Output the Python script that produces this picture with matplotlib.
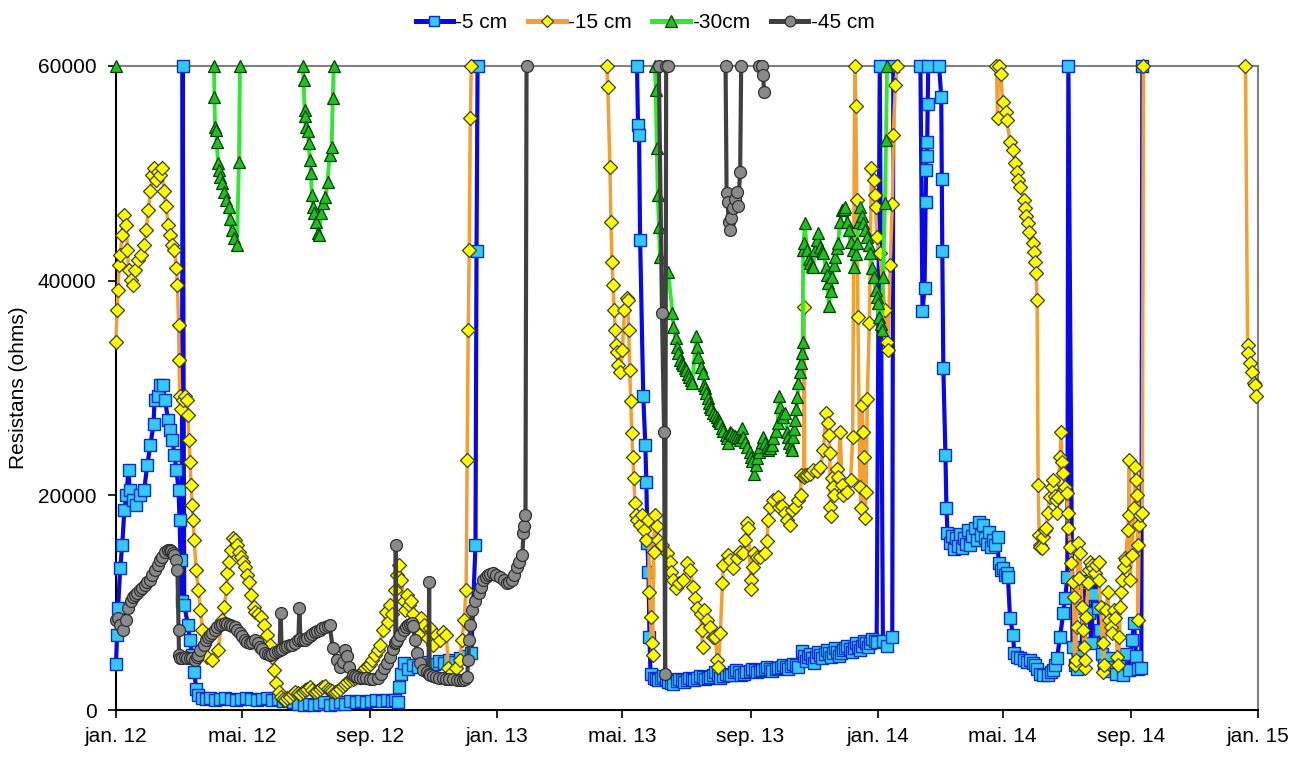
import datetime
import numpy as np
import matplotlib
matplotlib.use("Agg")
import matplotlib.pyplot as plt
import matplotlib.dates as mdates
from matplotlib.lines import Line2D

plt.rcParams['font.family'] = ['Liberation Sans', 'DejaVu Sans']

# ---------------- data: (days since 2012-01-01, resistance in ohms) ----------------
cm5_segments = [
    [(0, 4300), (1, 7000), (2, 9500), (4, 13200), (6, 15400), (8, 18600), (10, 20000), (12, 22400),
     (13, 20500), (16, 19600), (19, 19100), (23, 20000), (27, 20500), (30, 22800), (33, 24700),
     (36, 26600), (37, 28900), (40, 29300), (42, 30300), (45, 30300), (47, 28900), (50, 27000),
     (52, 26100), (54, 25200), (56, 23800), (58, 22400), (60, 20500), (61, 17700), (62, 14000),
     (63, 10200), (64, 60000), (65.5, 9800), (69, 7900), (71, 6500), (73, 5100), (75, 3500),
     (77, 2000), (79, 1400), (83, 1100), (86, 1000), (90, 1100), (95, 900), (100, 1000), (105, 1100),
     (110, 1000), (115, 900), (120, 1000), (125, 1100), (130, 1000), (135, 900), (140, 1000),
     (145, 1100), (150, 900), (155, 1000), (160, 800), (165, 900), (170, 700), (175, 600), (180, 500),
     (185, 600), (190, 500), (195, 600), (200, 700), (205, 500), (210, 600), (215, 700), (220, 600),
     (225, 800), (230, 700), (235, 800), (240, 700), (245, 800), (250, 900), (255, 800), (260, 900),
     (265, 800), (268, 900), (271, 700), (272, 2100), (274, 3400), (276, 4400), (280, 3800),
     (285, 4200), (290, 4000), (295, 4500), (300, 4200), (305, 4300), (310, 4600), (315, 4400),
     (320, 4700), (325, 4500), (330, 4800), (335, 5000), (341, 5300), (345, 15400), (346, 42800),
     (347, 60000)],
    [(500, 60000), (501, 54500), (502, 53600), (503, 43800), (506, 29300), (508, 24700), (509, 21200),
     (510, 15600), (511, 12900), (512, 6800), (513, 3400), (516, 3000), (518, 2900), (520, 2800),
     (523, 3000), (525, 3200), (528, 2900), (530, 2600), (533, 2500), (535, 2400), (538, 2700),
     (540, 2900), (543, 2800), (545, 2600), (548, 2800), (550, 3000), (553, 2900), (555, 2800),
     (558, 3000), (560, 3200), (563, 3100), (565, 2900), (568, 3000), (570, 3100), (573, 3300),
     (575, 3500), (578, 3300), (580, 3000), (583, 3200), (585, 3400), (588, 3300), (590, 3300),
     (593, 3500), (595, 3700), (598, 3500), (600, 3300), (603, 3400), (605, 3500), (608, 3600),
     (610, 3800), (613, 3700), (615, 3500), (618, 3600), (620, 3700), (623, 3800), (625, 4000),
     (628, 3800), (630, 3600), (633, 3800), (635, 3900), (638, 4000), (640, 4200), (643, 4000),
     (645, 3800), (648, 4100), (650, 4300), (653, 4200), (655, 4000), (658, 5500), (660, 5000),
     (662, 4600), (664, 4900), (666, 5200), (668, 4800), (670, 4400), (672, 4900), (674, 5400),
     (676, 5100), (678, 4800), (680, 5200), (682, 5600), (684, 5300), (686, 4900), (688, 5300),
     (690, 5800), (692, 5400), (694, 5000), (696, 5300), (698, 5600), (700, 5800), (702, 6000),
     (704, 5700), (706, 5400), (708, 5800), (710, 6200), (712, 5900), (714, 5600), (716, 6000),
     (718, 6400), (720, 6200), (722, 5900), (724, 6200), (726, 6600), (728, 6400), (730, 6300),
     (733, 60000), (736, 6400), (740, 6000), (745, 6800), (746, 60000)],
    [(772, 60000), (774, 37200), (776, 39300), (777, 47300), (777.5, 50300), (778, 51600),
     (778.5, 52900), (779, 56500), (779.5, 60000)],
    [(790, 60000), (792, 57100), (792.5, 49500), (793, 42800), (794, 31900), (796, 23800),
     (797, 18800), (798, 16500), (800, 15600), (802, 16200), (804, 15000), (806, 16000), (808, 15300),
     (810, 16400), (812, 15100), (814, 16000), (816, 15500), (818, 16800), (820, 15400), (822, 16200),
     (824, 17000), (826, 15800), (828, 17500), (830, 16300), (832, 17200), (834, 16000), (836, 15500),
     (838, 16600), (840, 15200), (842, 15800), (844, 15400), (846, 16100), (847, 13700), (849, 13000),
     (851, 13200), (853, 12600), (855, 12800), (856, 12400), (858, 8600), (861, 7000), (862, 5300),
     (865, 4900), (868, 4800), (871, 4700), (874, 4500), (877, 4700), (880, 4400), (882, 4200),
     (884, 3800), (887, 3400), (890, 3300), (894, 3300), (897, 3500), (899, 3700), (901, 4200),
     (903, 4800), (906, 6800), (909, 9000), (911, 10400), (913, 12400), (914, 60000), (918, 5900),
     (920, 4200), (922, 3800), (924, 5000), (926, 4500), (928, 9500), (930, 11800), (932, 12000),
     (934, 9000), (936, 6200), (938, 10800), (940, 12300), (942, 9500), (944, 7500), (946, 5200),
     (948, 4200), (951, 3600), (954, 4800), (957, 4000), (960, 3400), (963, 4600), (966, 3300),
     (969, 5200), (972, 3700), (975, 6500), (977, 8100), (979, 5000), (981, 3800), (984, 3900),
     (985, 60000)],
]

cm15_segments = [
    [(0, 34300), (1, 37300), (2, 39100), (3, 41500), (4, 42400), (6, 44300), (8, 46100), (10, 45200),
     (11, 42900), (12, 41000), (14, 40100), (16, 39600), (18, 41000), (21, 41900), (24, 42400),
     (27, 43300), (29, 44700), (31, 46600), (33, 48400), (35, 49800), (36, 50500), (38, 49400),
     (40, 50100), (42, 49800), (44, 50500), (46, 48400), (48, 47000), (50, 45200), (52, 44300),
     (54, 43300), (56, 42900), (58, 41200), (59, 39600), (60, 35900), (60.5, 32600), (61, 29300),
     (62, 28000), (64, 28900), (66, 29300), (68, 28900), (69, 27500), (70, 25200), (71, 23100),
     (72, 21000), (73, 19100), (74, 17700), (75, 15800), (77, 13000), (79, 11200), (81, 9300),
     (83, 7500), (84, 6100), (87, 4900), (92, 4700), (98, 5600), (102, 8400), (104, 9600),
     (106, 11400), (107, 12800), (108, 13800), (110, 14900), (112, 16000), (114, 15800), (116, 15400),
     (118, 14700), (120, 14300), (122, 13800), (124, 13300), (126, 12600), (128, 11900), (130, 10700),
     (132, 9600), (133, 9100), (136, 8900), (139, 8700), (142, 7900), (145, 7000), (148, 6100),
     (150, 4900), (152, 3700), (154, 2500), (156, 1700), (158, 1200), (160, 1000), (162, 900),
     (164, 1100), (167, 1200), (170, 1500), (172, 1700), (175, 1600), (177, 1500), (179, 1700),
     (181, 1900), (183, 2000), (186, 2100), (188, 1900), (191, 1700), (193, 1800), (196, 2000),
     (198, 2100), (201, 2200), (203, 2000), (205, 1900), (207, 1800), (210, 1700), (212, 1800),
     (215, 2000), (218, 2200), (220, 2400), (222, 2600), (225, 2800), (227, 2900), (229, 3000),
     (231, 3200), (234, 3400), (237, 3600), (239, 3900), (242, 4100), (244, 4300), (246, 4700),
     (249, 5100), (251, 5600), (253, 6100), (256, 7500), (259, 9100), (261, 8200),
     (263, 9800), (265, 8900), (268, 11200), (270, 12600), (272, 13500), (274, 12100), (276, 10200),
     (277, 9300), (279, 10700), (281, 9800), (283, 10200), (285, 8900), (288, 7900), (291, 7000),
     (293, 8600), (296, 7900), (299, 6700), (301, 7600), (304, 6100), (307, 7000), (311, 6500),
     (314, 7300), (317, 7000), (319, 3900), (322, 3500), (326, 3900), (330, 4700), (332, 6500),
     (334, 8400), (336, 11200), (337, 23300), (338, 35400), (339, 42900), (340, 55200), (341, 60000)],
    [(471, 60000), (472, 58000), (474, 50600), (475, 45500), (476, 41700), (477, 39600), (478, 37300),
     (479, 35400), (480, 34000), (481, 33400), (482, 32100), (484, 31500), (486, 33500), (488, 37300),
     (490, 38400), (491, 38200), (492, 35400), (493, 31700), (494, 28800), (495, 25800), (496, 23600),
     (497, 21600), (498, 19300), (499, 18200), (500, 17700), (503, 17200), (505, 18200), (507, 16800),
     (509, 15800), (511, 17700), (512, 11000), (513, 8700), (514, 6200), (515, 5100), (516, 14700),
     (517, 18200), (519, 17100), (520, 15800), (524, 15400), (529, 14600), (532, 13800),
     (532.5, 12900), (535, 12100), (537, 11400), (540, 11800), (544, 12100), (548, 13700),
     (551, 13000), (554, 11500), (556, 10400), (558, 9500), (561, 8900), (562, 7500), (563, 5900),
     (564, 9300), (567, 8400), (570, 7700), (573, 6800), (575, 6800), (577, 4700), (578, 4000),
     (580, 7200), (582, 11800), (583, 13500), (587, 14400), (589, 14000), (592, 13200), (596, 14200),
     (599, 14700), (602, 14600), (604, 15800), (606, 17400), (607, 17000), (609, 12100),
     (609.5, 11300), (611, 13300), (612, 14600), (615, 14300), (618, 14300), (623, 14600),
     (625, 15700), (625.5, 17700), (628, 18900), (631, 19600), (635, 19800), (636, 18900),
     (639, 19000), (642, 18400), (644, 17700), (647, 17200), (649, 18600), (652, 18900), (655, 19600),
     (657, 20000), (657.5, 21900), (660, 21700), (660.5, 37500), (661, 21900), (663, 21900),
     (666, 22000), (669, 22400), (673, 22300), (676, 22600), (679, 24200), (681, 27700), (683, 26700),
     (684, 25600), (685, 23900), (685.5, 18900), (686, 18100), (687, 21600), (688, 20800),
     (689, 20000), (692, 22500), (693, 21700), (695, 25900), (697, 21000), (698, 20000), (702, 20300),
     (705, 21400), (707, 25400), (709, 60000), (710, 56300), (711, 47500), (712, 36600), (714, 20800),
     (715, 18800), (716, 28400), (717, 25900), (718, 23600), (719, 17900), (720, 20300), (721, 29000),
     (723, 36100), (725, 50500), (727, 49400), (728, 48000), (729, 46900), (730, 44100), (733, 42600),
     (738, 37300), (740, 34300), (741, 33500), (743, 41500), (745, 47100), (746, 53600), (748, 58200),
     (750, 60000)],
    [(845, 60000), (846, 55200), (847, 60000), (849, 59300), (851, 56600), (854, 55700), (855, 55000),
     (858, 52900), (861, 52200), (863, 51000), (865, 50100), (866, 49400), (868, 48700), (871, 47500),
     (872, 46800), (873, 46000), (875, 45400), (876, 44500), (880, 43500), (881, 42700), (882, 41700),
     (883, 40700), (884, 38200), (885, 21000), (886, 16300), (886.5, 15400), (887, 15200),
     (889, 15100), (890, 16100), (892, 16800), (893, 17000), (894, 18400), (896, 19800), (898, 20800),
     (899, 21400), (901, 19900), (902, 19600), (903, 18400), (904, 19800), (906, 23600), (907, 25900),
     (908, 23100), (909, 22100), (911, 20800), (913, 20200), (913.5, 18400), (914, 17000),
     (916, 15200), (917, 13700), (918, 11900), (919, 10500), (920, 4200), (921, 4700), (922, 7700),
     (923, 15600), (924, 12300), (925, 14600), (927, 9600), (928, 7500), (929, 5900), (929.5, 3900),
     (930, 4700), (931, 8700), (933, 11800), (934, 13000), (935, 13800), (937, 13500), (938, 13200),
     (940, 12800), (941, 13500), (943, 13800), (943.5, 12100), (945, 9600), (947, 6200),
     (947.5, 3500), (948, 4200), (950, 9300), (952, 11000), (953, 8400), (955, 7700), (956, 7200),
     (958, 9300), (959, 8600), (961, 4900), (962, 4200), (963, 6800), (964, 9600), (964.5, 11000),
     (965, 12100), (967, 13300), (968, 14200), (969, 14000), (971, 16800), (972, 18200),
     (972.5, 23300), (973, 12100), (975, 14400), (977, 18800), (978, 22600), (979, 21400),
     (980, 20000), (980.5, 15400), (981, 8400), (982, 17200), (983, 18200), (985, 18400),
     (986, 60000)],
    [(1084, 60000), (1086, 34000), (1086.5, 33300), (1088, 32300), (1090, 31500), (1092, 30500),
     (1093, 30300), (1094, 29300)],
]

cm30_segments = [
    [(0, 60000)],
    [(94, 60000), (94.5, 57100), (95, 54300), (96, 54000), (96.5, 52900), (98, 51000), (99, 50300),
     (100, 49700), (102, 49100), (104, 48300), (106, 47500), (108, 46900), (109, 45700), (111, 44700),
     (113, 44000), (116, 43300), (118, 51100), (119, 60000)],
    [(179, 60000), (180, 58700), (181, 55900), (181.5, 55300), (182, 54300), (184, 53900),
     (185, 52800), (186, 51200), (187, 50000), (188, 48000), (189, 46900), (190.5, 46300),
     (192, 45500), (194, 44400), (195, 44300), (197, 46300), (199, 47200), (201, 47800), (203, 49200),
     (205, 51700), (207, 52500), (208, 57000), (209, 60000)],
    [(517, 60000), (518, 57800), (519, 52400), (520, 48000), (521, 45000), (522, 42200), (530, 40800),
     (534, 37000), (535, 35700), (537, 34700), (538, 33800), (539, 33300), (541, 32600), (543, 32300),
     (544, 32100), (546, 31900), (547, 31700), (549, 31300), (550, 31000), (552, 30700), (553, 30500),
     (557, 34800), (558, 33800), (559, 32900), (561, 32000), (563, 31400), (564, 30300), (565, 30000),
     (566, 29500), (568, 29100), (569, 28600), (570, 28200), (571, 28000), (573, 27700), (575, 27500),
     (577, 27300), (578, 27000), (579, 26900), (580, 26700), (582, 26300), (583, 26000), (585, 25600),
     (586, 25300), (587, 24900), (589, 25900), (590, 25800), (592, 25600), (594, 25500), (596, 25400),
     (598, 25300), (599, 25200), (601, 26300), (602, 25400), (604, 25000), (606, 24500), (608, 24000),
     (609, 23600), (610, 23200), (612, 22000), (614, 22800), (615, 23500), (617, 24000), (618, 24500),
     (620, 25000), (621, 25400), (623, 24900), (625, 24500), (626, 24200), (628, 24400), (630, 24700),
     (631, 25300), (633, 26000), (635, 26700), (636, 29300), (637, 28200), (639, 27500), (640, 27300),
     (642, 27700), (644, 25900), (645, 25400), (646, 24900), (648, 24500), (649, 24200), (650, 25400),
     (651, 26200), (652, 27000), (653, 28000), (654, 29200), (655, 30500), (656, 31500), (657, 32300),
     (658, 33300), (659, 34300), (659.5, 42900), (660, 43500), (661, 45400), (663, 42900),
     (665, 42000), (666, 41600), (668, 41400), (669, 41300), (671, 42900), (673, 43800), (674, 44400),
     (676, 43100), (678, 42800), (679, 42600), (681, 41300), (682, 40500), (683, 39800), (684, 37600),
     (686, 39000), (687, 40300), (689, 41500), (690, 42200), (692, 43000), (693, 43500), (695, 45500),
     (697, 46600), (699, 46700), (700, 46900), (702, 45500), (703, 44700), (705, 43600), (707, 42900),
     (708, 41300), (710, 42500), (711, 43500), (713, 45500), (714, 46900), (716, 46000), (717, 45400),
     (719, 44700), (721, 44100), (723, 43300), (724, 42600), (726, 41200), (727, 40300), (729, 39100),
     (730, 38500), (731, 37900), (732, 36600), (734, 36000), (735, 35400), (736, 40300), (738, 47200),
     (739, 53100), (740, 60000)],
]

cm45_segments = [
    [(0, 8400), (2, 8600), (4, 7900), (7, 7500), (10, 8400), (11.5, 9500), (14, 10200), (16, 10500),
     (18, 10700), (20, 10900), (23, 11200), (25, 11400), (28, 11600), (30, 11900), (33, 12100),
     (35, 12600), (37, 13000), (40, 13500), (42, 14000), (44, 14300), (47, 14700), (50, 14900),
     (52, 14900), (53, 14800), (55, 14600), (56, 14400), (58, 14000), (59, 13000), (60, 7500),
     (60.5, 5100), (61, 4800), (63, 4800), (66, 4900), (68, 4800), (71, 4800), (73, 4800), (76, 4700),
     (78, 4900), (79, 5100), (81, 5600), (84, 6100), (86, 6500), (88, 6800), (90, 7000), (92, 7200),
     (95, 7500), (97, 7700), (100, 7900), (102, 8000), (105, 8100), (107, 8000), (109, 7900),
     (111, 7800), (114, 7700), (116, 7500), (119, 7200), (121, 6900), (124, 6500), (126, 6300),
     (129, 6200), (131, 6300), (133, 6500), (136, 6200), (138, 5900), (140, 5700), (143, 5300),
     (146, 5200), (148, 5100), (150, 5200), (153, 5400), (155, 5500), (157, 5600), (158, 9000),
     (159, 5700), (162, 5900), (164, 6000), (167, 6100), (169, 6100), (172, 6200), (175, 6500),
     (176, 9500), (177, 6600), (179, 6500), (181, 6500), (183, 6700), (186, 6900), (188, 7100),
     (191, 7300), (193, 7400), (196, 7500), (198, 7600), (201, 7700), (203, 7800), (205, 7900),
     (208, 5800), (212, 4700), (215, 4000), (218, 4500), (220, 5600), (222, 5000), (224, 4000),
     (227, 3300), (229, 3200), (231, 3100), (234, 3000), (237, 3000), (240, 3000), (244, 2900),
     (247, 2900), (251, 3000), (254, 3400), (257, 3900), (260, 4400), (263, 4900), (266, 5700),
     (268, 6200), (268.5, 15400), (269, 6300), (270, 6500), (273, 7000), (276, 7500), (278, 7700),
     (280, 7900), (282, 8000), (284, 8100), (285, 7800), (287, 6500), (289, 5300), (292, 4400),
     (295, 3700), (298, 3500), (300, 3400), (300.5, 11900), (301, 3300), (304, 3200), (307, 3100),
     (310, 3000), (314, 3000), (317, 2900), (320, 2900), (323, 2900), (327, 2800), (330, 2800),
     (333, 2800), (335, 2900), (337, 3100), (338, 4700), (339, 6500), (340, 7900), (342, 9300),
     (345, 10200), (348, 10900), (350, 11500), (352, 12100), (355, 12400), (357, 12600), (359, 12700),
     (362, 12800), (365, 12600), (369, 12400), (372, 12100), (375, 11800), (377, 11900), (380, 12100),
     (382, 12600), (385, 13300), (387, 13800), (390, 14400), (391, 16500), (392, 17100), (393, 18200),
     (394, 60000)],
    [(521, 60000), (524, 37000), (526, 25900), (527, 3400), (528, 60000), (530, 60000)],
    [(585, 60000), (586, 48200), (587, 47300), (588, 45500), (589, 44700), (590, 45800), (592, 46800),
     (594, 47600), (596, 48300), (597, 47000), (599, 50100), (600, 60000)],
    [(617, 60000), (620, 60000), (621, 59200), (622, 57600)],
]

series_names = ['-5 cm', '-15 cm', '-30cm', '-45 cm']
tick_dates = ['2012-01-01', '2012-05-01', '2012-09-01', '2013-01-01', '2013-05-01', '2013-09-01',
              '2014-01-01', '2014-05-01', '2014-09-01', '2015-01-01']
tick_labels = ['jan. 12', 'mai. 12', 'sep. 12', 'jan. 13', 'mai. 13', 'sep. 13',
               'jan. 14', 'mai. 14', 'sep. 14', 'jan. 15']
y_ticks = [0, 20000, 40000, 60000]

# ---------------- plotting ----------------
base = mdates.date2num(datetime.datetime(2012, 1, 1))


def build(segs):
    xs, ys = [], []
    for i, seg in enumerate(segs):
        if i:
            xs.append(np.nan)
            ys.append(np.nan)
        for d, v in seg:
            xs.append(d)
            ys.append(v)
    return base + np.array(xs, float), np.array(ys, float)


styles = [
    dict(color='#0808E8', lw=3.0, marker='s', ms=8.5, mfc='#33C8F5', mec='#0030C8', mew=1.0),
    dict(color='#F4A030', lw=2.5, marker='D', ms=7.2, mfc='#FFFF00', mec='#404000', mew=0.9),
    dict(color='#30E830', lw=2.8, marker='^', ms=9.0, mfc='#20C020', mec='#004000', mew=0.9),
    dict(color='#404040', lw=3.0, marker='o', ms=8.6, mfc='#8A8A8A', mec='#303030', mew=0.9),
]

fig = plt.figure(figsize=(12.99, 7.61), dpi=100)
ax = fig.add_axes([116 / 1299, 1 - 710 / 761, (1258 - 116) / 1299, (710 - 66) / 761])

all_segs = [cm5_segments, cm15_segments, cm30_segments, cm45_segments]
handles = []
for k, (name, segs, st) in enumerate(zip(series_names, all_segs, styles)):
    x, y = build(segs)
    ax.plot(x, y, clip_on=False, zorder=3 + k, **st)
    hst = dict(st)
    hst['lw'] = 3.6
    hst['ms'] = st['ms'] * 0.9
    handles.append(Line2D([], [], label=name, **hst))

ax.set_xlim(base, base + 1096)
ax.set_ylim(0, 60000)
ax.set_xticks([mdates.date2num(datetime.datetime.strptime(d, '%Y-%m-%d')) for d in tick_dates])
ax.set_xticklabels(tick_labels)
ax.set_yticks(y_ticks)
ax.set_yticklabels([str(v) for v in y_ticks])

for s in ['left', 'bottom']:
    ax.spines[s].set_color('black')
    ax.spines[s].set_linewidth(1.5)
for s in ['top', 'right']:
    ax.spines[s].set_color('#808080')
    ax.spines[s].set_linewidth(1.5)

ax.tick_params(axis='both', direction='out', length=6, width=1.2, labelsize=15, color='black')
ax.tick_params(axis='x', pad=6)
ax.tick_params(axis='y', pad=8)
ax.set_ylabel('Resistans (ohms)', fontsize=15)
ax.yaxis.set_label_coords(-0.077, 0.5)

fig.legend(handles=handles, loc='center', bbox_to_anchor=(645 / 1299, 1 - 23 / 761), ncol=4,
           frameon=False, fontsize=15, handlelength=1.8, handletextpad=0.1, columnspacing=1.0,
           borderaxespad=0, borderpad=0)

fig.savefig('out.png', dpi=100)
